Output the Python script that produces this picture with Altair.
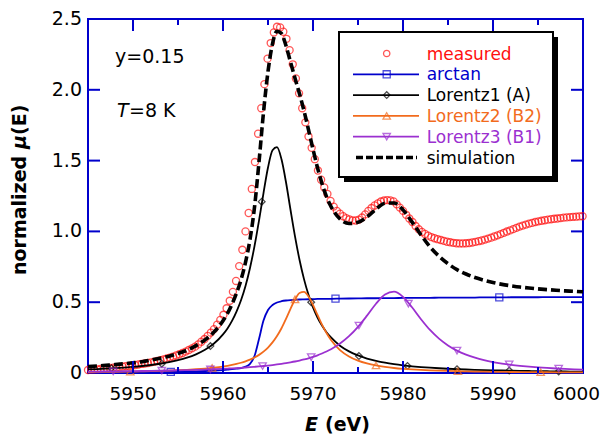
import altair as alt
import pandas as pd

# ---------------- data ----------------
E_line = [5945, 5946, 5947, 5948, 5949, 5950, 5951, 5952, 5953, 5954, 5955, 5956, 5957, 5958, 5959, 5960,
          5960.5, 5961, 5961.5, 5962, 5962.5, 5963, 5963.5, 5964, 5964.5, 5965, 5965.5, 5966, 5966.5, 5967,
          5967.5, 5968, 5968.5, 5969, 5969.5, 5970, 5970.5, 5971, 5971.5, 5972,
          5973, 5974, 5975, 5976, 5977, 5978, 5979, 5980, 5981, 5982, 5983, 5984, 5985, 5986, 5987, 5988,
          5989, 5990, 5991, 5992, 5993, 5994, 5995, 5996, 5997, 5998, 5999, 6000]

arctan = [0.003, 0.003, 0.004, 0.004, 0.004, 0.005, 0.005, 0.006, 0.007, 0.008, 0.009, 0.010, 0.012, 0.014, 0.017, 0.021,
          0.024, 0.028, 0.031, 0.035, 0.045, 0.065, 0.12, 0.24, 0.37, 0.445, 0.48, 0.498, 0.507, 0.512,
          0.515, 0.517, 0.519, 0.520, 0.521, 0.522, 0.523, 0.523, 0.524, 0.524,
          0.525, 0.526, 0.527, 0.528, 0.528, 0.529, 0.529, 0.530, 0.530, 0.531, 0.531, 0.532, 0.532, 0.532,
          0.533, 0.533, 0.534, 0.534, 0.534, 0.535, 0.535, 0.535, 0.535, 0.536, 0.536, 0.536, 0.536, 0.536]

lorentz1 = [0.0254, 0.0280, 0.0310, 0.0345, 0.0386, 0.0435, 0.0494, 0.0566, 0.0653, 0.0762, 0.0901, 0.108, 0.132, 0.164, 0.208, 0.273,
            0.315, 0.368, 0.434, 0.514, 0.615, 0.742, 0.896, 1.076, 1.271, 1.451, 1.573, 1.595, 1.509, 1.347,
            1.153, 0.965, 0.800, 0.663, 0.552, 0.463, 0.392, 0.335, 0.288, 0.251,
            0.193, 0.153, 0.124, 0.102, 0.0856, 0.0727, 0.0625, 0.0542, 0.0475, 0.0420, 0.0373, 0.0334, 0.0301, 0.0272,
            0.0247, 0.0226, 0.0207, 0.0190, 0.0176, 0.0163, 0.0151, 0.0141, 0.0131, 0.0123, 0.0115, 0.0108, 0.0102, 0.0096]

lorentz2 = [0.0068, 0.0074, 0.0080, 0.0088, 0.0097, 0.0107, 0.0120, 0.0134, 0.0151, 0.0171, 0.0196, 0.0226, 0.0264, 0.0312, 0.0375, 0.0457,
            0.0508, 0.0569, 0.0640, 0.0724, 0.0826, 0.0949, 0.110, 0.128, 0.151, 0.180, 0.216, 0.261, 0.316, 0.382,
            0.453, 0.519, 0.565, 0.573, 0.541, 0.481, 0.410, 0.341, 0.282, 0.233,
            0.162, 0.117, 0.0872, 0.0672, 0.0531, 0.0430, 0.0354, 0.0297, 0.0252, 0.0216, 0.0188, 0.0165, 0.0145, 0.0129,
            0.0116, 0.0104, 0.0094, 0.0086, 0.0078, 0.0072, 0.0066, 0.0061, 0.0056, 0.0052, 0.0049, 0.0045, 0.0042, 0.0040]

lorentz3 = [0.0096, 0.0101, 0.0108, 0.0115, 0.0122, 0.0131, 0.0140, 0.0150, 0.0162, 0.0175, 0.0189, 0.0206, 0.0224, 0.0245, 0.0269, 0.0297,
            0.0313, 0.0329, 0.0347, 0.0367, 0.0388, 0.0411, 0.0437, 0.0464, 0.0494, 0.0527, 0.0563, 0.0603, 0.0648, 0.0697,
            0.0752, 0.0812, 0.0881, 0.0957, 0.104, 0.114, 0.125, 0.138, 0.152, 0.168,
            0.208, 0.260, 0.326, 0.405, 0.489, 0.554, 0.574, 0.538, 0.464, 0.380, 0.304, 0.243, 0.195, 0.158,
            0.130, 0.108, 0.0910, 0.0775, 0.0667, 0.0579, 0.0507, 0.0447, 0.0397, 0.0355, 0.0319, 0.0288, 0.0262, 0.0239]

simulation = [0.045, 0.049, 0.054, 0.059, 0.065, 0.072, 0.080, 0.091, 0.104, 0.119, 0.138, 0.161, 0.193, 0.234, 0.289, 0.369,
              0.421, 0.486, 0.564, 0.658, 0.781, 0.943, 1.170, 1.490, 1.841, 2.129, 2.325, 2.414, 2.397, 2.311,
              2.196, 2.082, 1.972, 1.852, 1.718, 1.580, 1.450, 1.337, 1.246, 1.176,
              1.088, 1.056, 1.064, 1.102, 1.156, 1.199, 1.201, 1.152, 1.067, 0.975, 0.891, 0.825, 0.772, 0.730,
              0.699, 0.674, 0.655, 0.639, 0.626, 0.616, 0.607, 0.600, 0.594, 0.589, 0.584, 0.580, 0.577, 0.573]

measured = [0.021, 0.023, 0.024, 0.026, 0.028, 0.030, 0.033, 0.035, 0.037, 0.039,
            0.042, 0.045, 0.048, 0.050, 0.053, 0.056, 0.060, 0.064, 0.067, 0.071,
            0.075, 0.080, 0.085, 0.090, 0.096, 0.102, 0.109, 0.116, 0.124, 0.132,
            0.141, 0.151, 0.162, 0.174, 0.186, 0.202, 0.221, 0.240, 0.262, 0.285,
            0.310, 0.341, 0.375, 0.411, 0.457, 0.51, 0.573, 0.65, 0.755, 0.87,
            1.00, 1.13, 1.30, 1.49, 1.69, 1.87, 2.04, 2.22, 2.33, 2.405,
            2.445, 2.44, 2.41, 2.36, 2.28, 2.18, 2.08, 1.975, 1.87, 1.77,
            1.67, 1.59, 1.51, 1.43, 1.365, 1.31, 1.265, 1.215, 1.175, 1.145,
            1.125, 1.107, 1.094, 1.084, 1.078, 1.077, 1.083, 1.098, 1.12, 1.145,
            1.165, 1.183, 1.198, 1.211, 1.218, 1.221, 1.219, 1.212, 1.191, 1.168,
            1.145, 1.117, 1.091, 1.066, 1.038, 1.015, 0.996, 0.982, 0.97, 0.96,
            0.952, 0.945, 0.939, 0.933, 0.927, 0.923, 0.919, 0.916, 0.915, 0.915,
            0.916, 0.918, 0.922, 0.926, 0.931, 0.936, 0.942, 0.949, 0.956, 0.964,
            0.972, 0.981, 0.99, 0.999, 1.007, 1.016, 1.025, 1.034, 1.041, 1.048,
            1.055, 1.06, 1.066, 1.071, 1.075, 1.079, 1.083, 1.086, 1.089, 1.091,
            1.094, 1.097, 1.099, 1.101, 1.103, 1.104, 1.106, 1.107]
E_meas = [round(5945 + 0.35 * k, 2) for k in range(len(measured))]

arctan_mk_E = [5954.2, 5972.5, 5990.7]
arctan_mk_v = [0.008, 0.525, 0.534]
l1_mk_E = [5947.6, 5953.2, 5958.6, 5964.3, 5969.8, 5975.1, 5980.5, 5986.0, 5991.8, 5997.3]
l1_mk_v = [0.033, 0.066, 0.19, 1.21, 0.50, 0.12, 0.05, 0.027, 0.017, 0.011]
l2_mk_E = [5949.7, 5958.8, 5968.0, 5977.0, 5986.1, 5995.3]
l2_mk_v = [0.010, 0.036, 0.52, 0.053, 0.013, 0.0056]
l3_mk_E = [5947.8, 5953.2, 5958.6, 5964.4, 5969.8, 5975.1, 5980.6, 5986.0, 5991.8, 5997.3]
l3_mk_v = [0.011, 0.016, 0.025, 0.049, 0.112, 0.335, 0.49, 0.158, 0.061, 0.031]

x_major = [5950, 5960, 5970, 5980, 5990]
x_minor = [5955, 5965, 5975, 5985, 5995]
x_label_vals = [5950, 5960, 5970, 5980, 5990]
x_label_text = ["5950", "5960", "5970", "5980", "5990"]
x_last_label = "6000"
y_major = [0.5, 1.0, 1.5, 2.0]
y_label_vals = [0, 0.5, 1.0, 1.5, 2.0, 2.5]
y_label_text = ["0", "0.5", "1.0", "1.5", "2.0", "2.5"]

legend_labels = ["measured", "arctan", "Lorentz1 (A)", "Lorentz2 (B2)", "Lorentz3 (B1)", "simulation"]

# ---------------- styling ----------------
FONT = "DejaVu Sans"
BLUE = "#0000cc"
RED = "#ff1010"
ORANGE = "#f26b1d"
PURPLE = "#9b30d0"
BLACK = "#000000"
W, H = 495, 354

xs = alt.Scale(domain=[5945, 6000], nice=False, zero=False)
ys = alt.Scale(domain=[0, 2.5], nice=False, zero=False)
one = alt.Data(values=[{"a": 1}])

layers = []

# measured circles
meas_df = pd.DataFrame({"E": E_meas, "v": measured})
layers.append(
    alt.Chart(meas_df).mark_point(shape="circle", filled=False, color=RED, size=50, strokeWidth=1.3).encode(
        x=alt.X("E:Q", scale=xs, axis=None),
        y=alt.Y("v:Q", scale=ys, axis=None),
    )
)


def line_layer(vals, color, width=1.8, dash=None):
    df = pd.DataFrame({"E": E_line, "v": vals})
    kw = dict(color=color, strokeWidth=width, interpolate="monotone")
    if dash is not None:
        kw["strokeDash"] = dash
    return alt.Chart(df).mark_line(**kw).encode(
        x=alt.X("E:Q", scale=xs, axis=None), y=alt.Y("v:Q", scale=ys, axis=None))


def marker_layer(ex, vy, color, shape, size):
    df = pd.DataFrame({"E": ex, "v": vy})
    return alt.Chart(df).mark_point(shape=shape, filled=False, color=color, size=size, strokeWidth=1.3).encode(
        x=alt.X("E:Q", scale=xs, axis=None), y=alt.Y("v:Q", scale=ys, axis=None))


layers.append(line_layer(arctan, BLUE))
layers.append(marker_layer(arctan_mk_E, arctan_mk_v, BLUE, "square", 50))
layers.append(line_layer(lorentz1, BLACK))
layers.append(marker_layer(l1_mk_E, l1_mk_v, BLACK, "diamond", 45))
layers.append(line_layer(lorentz2, ORANGE))
layers.append(marker_layer(l2_mk_E, l2_mk_v, ORANGE, "triangle-up", 55))
layers.append(line_layer(lorentz3, PURPLE))
layers.append(marker_layer(l3_mk_E, l3_mk_v, PURPLE, "triangle-down", 55))
layers.append(line_layer(simulation, BLACK, width=3.6, dash=[9, 4]))


# inward ticks
def xtick(vals, length):
    df = pd.DataFrame({"t": vals})
    bot = alt.Chart(df).mark_rule(color=BLUE, strokeWidth=2).encode(
        x=alt.X("t:Q", scale=xs, axis=None), y=alt.value(H), y2=alt.value(H - length))
    top = alt.Chart(df).mark_rule(color=BLUE, strokeWidth=2).encode(
        x=alt.X("t:Q", scale=xs, axis=None), y=alt.value(0), y2=alt.value(length))
    return [bot, top]


layers += xtick(x_major, 12)
layers += xtick(x_minor, 6)
ydf = pd.DataFrame({"t": y_major})
layers.append(alt.Chart(ydf).mark_rule(color=BLUE, strokeWidth=2).encode(
    y=alt.Y("t:Q", scale=ys, axis=None), x=alt.value(0), x2=alt.value(12)))
layers.append(alt.Chart(ydf).mark_rule(color=BLUE, strokeWidth=2).encode(
    y=alt.Y("t:Q", scale=ys, axis=None), x=alt.value(W), x2=alt.value(W - 12)))

# tick labels
xl_df = pd.DataFrame({"t": x_label_vals, "lab": x_label_text})
layers.append(alt.Chart(xl_df).mark_text(font=FONT, fontSize=18.5, align="center", baseline="top",
                                         color="black").encode(
    x=alt.X("t:Q", scale=xs, axis=None), y=alt.value(H + 12), text="lab:N"))
layers.append(alt.Chart(one).mark_text(text=x_last_label, font=FONT, fontSize=18.5, align="right", baseline="top",
                                       color="black").encode(x=alt.value(W + 17), y=alt.value(H + 12)))
yl_df = pd.DataFrame({"t": y_label_vals, "lab": y_label_text})
layers.append(alt.Chart(yl_df).mark_text(font=FONT, fontSize=19, align="right", baseline="middle",
                                         color="black").encode(
    y=alt.Y("t:Q", scale=ys, axis=None), x=alt.value(-6), text="lab:N"))

# annotation texts
layers.append(alt.Chart(one).mark_text(text="y=0.15", font=FONT, fontSize=19, align="left", baseline="alphabetic",
                                       color="black").encode(x=alt.value(27), y=alt.value(44)))
layers.append(alt.Chart(one).mark_text(text="T", font=FONT, fontSize=19, fontStyle="italic", align="left",
                                       baseline="alphabetic", color="black").encode(x=alt.value(29), y=alt.value(98)))
layers.append(alt.Chart(one).mark_text(text="=8 K", font=FONT, fontSize=19, align="left", baseline="alphabetic",
                                       color="black").encode(x=alt.value(41), y=alt.value(98)))

# axis titles
layers.append(alt.Chart(one).mark_text(text="E", font=FONT, fontSize=19, fontStyle="italic", fontWeight="bold",
                                       align="left", baseline="alphabetic", color="black").encode(
    x=alt.value(217), y=alt.value(412)))
layers.append(alt.Chart(one).mark_text(text="(eV)", font=FONT, fontSize=19, fontWeight="bold",
                                       align="left", baseline="alphabetic", color="black").encode(
    x=alt.value(237), y=alt.value(412)))
layers.append(alt.Chart(one).mark_text(text="normalized ", font=FONT, fontSize=19, fontWeight="bold", angle=270,
                                       align="left", baseline="alphabetic", color="black").encode(
    x=alt.value(-62), y=alt.value(256)))
layers.append(alt.Chart(one).mark_text(text="μ", font=FONT, fontSize=19, fontWeight="bold", fontStyle="italic",
                                       angle=270, align="left", baseline="alphabetic", color="black").encode(
    x=alt.value(-62), y=alt.value(130)))
layers.append(alt.Chart(one).mark_text(text="(E)", font=FONT, fontSize=19, fontWeight="bold", angle=270,
                                       align="left", baseline="alphabetic", color="black").encode(
    x=alt.value(-62), y=alt.value(116)))

# legend box with shadow
LX0, LX1, LY0, LY1 = 251, 465, 13, 158
layers.append(alt.Chart(one).mark_rect(fill="black").encode(
    x=alt.value(LX0 + 5), x2=alt.value(LX1 + 5), y=alt.value(LY0 + 5), y2=alt.value(LY1 + 5)))
layers.append(alt.Chart(one).mark_rect(fill="white", stroke="black", strokeWidth=2).encode(
    x=alt.value(LX0), x2=alt.value(LX1), y=alt.value(LY0), y2=alt.value(LY1)))

leg_colors = [RED, BLUE, BLACK, ORANGE, PURPLE, BLACK]
leg_shapes = ["circle", "square", "diamond", "triangle-up", "triangle-down", None]
leg_sizes = [40, 50, 45, 55, 55, 0]
for i, lab in enumerate(legend_labels):
    ry = 34.5 + 20.8 * i
    col = leg_colors[i]
    if i == 5:
        layers.append(alt.Chart(one).mark_rule(color=BLACK, strokeWidth=3.6, strokeDash=[7, 3]).encode(
            x=alt.value(268), x2=alt.value(329), y=alt.value(ry)))
    elif i > 0:
        layers.append(alt.Chart(one).mark_rule(color=col, strokeWidth=1.8).encode(
            x=alt.value(265), x2=alt.value(331), y=alt.value(ry)))
    if leg_shapes[i] is not None:
        layers.append(alt.Chart(one).mark_point(shape=leg_shapes[i], filled=False, color=col, size=leg_sizes[i],
                                                strokeWidth=1.3).encode(x=alt.value(298.7), y=alt.value(ry)))
    layers.append(alt.Chart(one).mark_text(text=lab, font=FONT, fontSize=17, align="left", baseline="middle",
                                           color=col).encode(x=alt.value(338.7), y=alt.value(ry + 1)))

chart = alt.layer(*layers).properties(
    width=W, height=H,
    autosize=alt.AutoSizeParams(type="none"),
    padding={"left": 80, "top": 11, "right": 18, "bottom": 66},
    background="white",
).configure_view(stroke=BLUE, strokeWidth=2)

chart.save("out.html", embed_options={"renderer": "svg", "actions": False})
